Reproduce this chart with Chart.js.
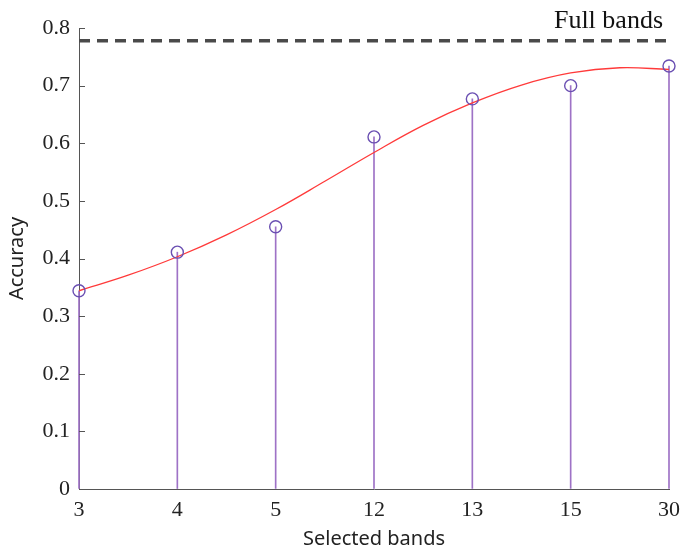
<!DOCTYPE html>
<html>
<head>
<meta charset="utf-8">
<script src="https://cdn.jsdelivr.net/npm/chart.js@4.4.1/dist/chart.umd.min.js"></script>
<style>
  html, body { margin: 0; padding: 0; background: #fff; }
  #wrap { width: 681px; height: 552px; }
</style>
</head>
<body>
<div id="wrap"><canvas id="grafico"></canvas></div>
<script>
// número de bandas selecionadas e acurácia obtida
const bandas = ['3', '4', '5', '12', '13', '15', '30'];
const acuracia = [0.344, 0.411, 0.455, 0.611, 0.677, 0.700, 0.734];

// curva de tendência, lida em meios passos entre as posições
const posTendencia = [0, 0.5, 1, 1.5, 2, 2.5, 3, 3.5, 4, 4.5, 5, 5.5, 6];
const tendencia = [0.344, 0.371, 0.403, 0.441, 0.485, 0.534, 0.584, 0.631, 0.670, 0.701, 0.722, 0.731, 0.728];

// referência com todas as bandas
const bandasCompletas = 0.778;
const rotuloCompletas = 'Full bands';

const fonteSerif = '"Liberation Serif", "Times New Roman", serif';
const fonteSans = '"Noto Sans", "Open Sans", sans-serif';

const extras = {
    id: 'extras',
    afterDraw(chart) {
        const { ctx, chartArea, scales } = chart;
        const y = scales.y;
        ctx.save();
        // marcas internas do eixo y
        ctx.strokeStyle = '#555';
        ctx.lineWidth = 1;
        y.ticks.forEach(t => {
            const py = Math.round(y.getPixelForValue(t.value)) + 0.5;
            ctx.beginPath();
            ctx.moveTo(chartArea.left, py);
            ctx.lineTo(chartArea.left + 6, py);
            ctx.stroke();
        });
        // rótulo da linha tracejada
        ctx.fillStyle = '#111';
        ctx.font = '26px ' + fonteSerif;
        ctx.textAlign = 'right';
        ctx.textBaseline = 'alphabetic';
        ctx.fillText(rotuloCompletas, chartArea.right - 6, y.getPixelForValue(bandasCompletas) - 13);
        ctx.restore();
    }
};

const ctx = document.getElementById('grafico').getContext('2d');

new Chart(ctx, {
    type: 'line',
    data: {
        datasets: [
            {
                type: 'scatter',
                data: acuracia.map((v, i) => ({ x: i, y: v })),
                pointStyle: 'circle',
                pointRadius: 6,
                borderWidth: 1.4,
                borderColor: '#6a4fb2',
                backgroundColor: 'rgba(0,0,0,0)',
                clip: false,
                order: 0
            },
            {
                type: 'line',
                data: [{ x: 0, y: bandasCompletas }, { x: bandas.length - 1, y: bandasCompletas }],
                borderColor: '#4a4a4a',
                borderWidth: 3.5,
                borderDash: [11, 7],
                pointRadius: 0,
                order: 1
            },
            {
                type: 'line',
                data: tendencia.map((v, i) => ({ x: posTendencia[i], y: v })),
                borderColor: '#ff3a3a',
                borderWidth: 1.3,
                pointRadius: 0,
                tension: 0.4,
                order: 2
            },
            {
                type: 'bar',
                data: acuracia.map((v, i) => ({ x: i, y: v })),
                backgroundColor: '#9e72c6',
                barThickness: 1,
                clip: false,
                order: 3
            }
        ]
    },
    options: {
        responsive: true,
        maintainAspectRatio: false,
        animation: false,
        layout: { padding: { top: 28, right: 12, left: 0, bottom: 0 } },
        plugins: {
            legend: { display: false },
            tooltip: { enabled: false }
        },
        scales: {
            x: {
                type: 'linear',
                min: 0,
                max: bandas.length - 1,
                offset: false,
                afterFit: s => { s.height = 63; s.paddingLeft = 0; s.paddingRight = 0; },
                grid: { drawOnChartArea: false, drawTicks: false },
                border: { color: '#555', width: 1 },
                ticks: {
                    stepSize: 1,
                    padding: 8,
                    color: '#222',
                    font: { family: fonteSerif, size: 22 },
                    callback: v => bandas[v] ?? ''
                },
                title: {
                    display: true,
                    text: 'Selected bands',
                    color: '#222',
                    font: { family: fonteSans, size: 20 },
                    padding: { top: 0, bottom: 1 }
                }
            },
            y: {
                min: 0,
                max: 0.8,
                afterFit: s => { s.width = 79; },
                grid: { drawOnChartArea: false, drawTicks: false },
                border: { color: '#555', width: 1 },
                ticks: {
                    stepSize: 0.1,
                    padding: 9,
                    color: '#222',
                    font: { family: fonteSerif, size: 22 },
                    callback: v => String(Number(v.toFixed(1)))
                },
                title: {
                    display: true,
                    text: 'Accuracy',
                    color: '#222',
                    font: { family: fonteSans, size: 20 },
                    padding: { top: 5, bottom: 0 }
                }
            }
        }
    },
    plugins: [extras]
});
</script>
</body>
</html>
